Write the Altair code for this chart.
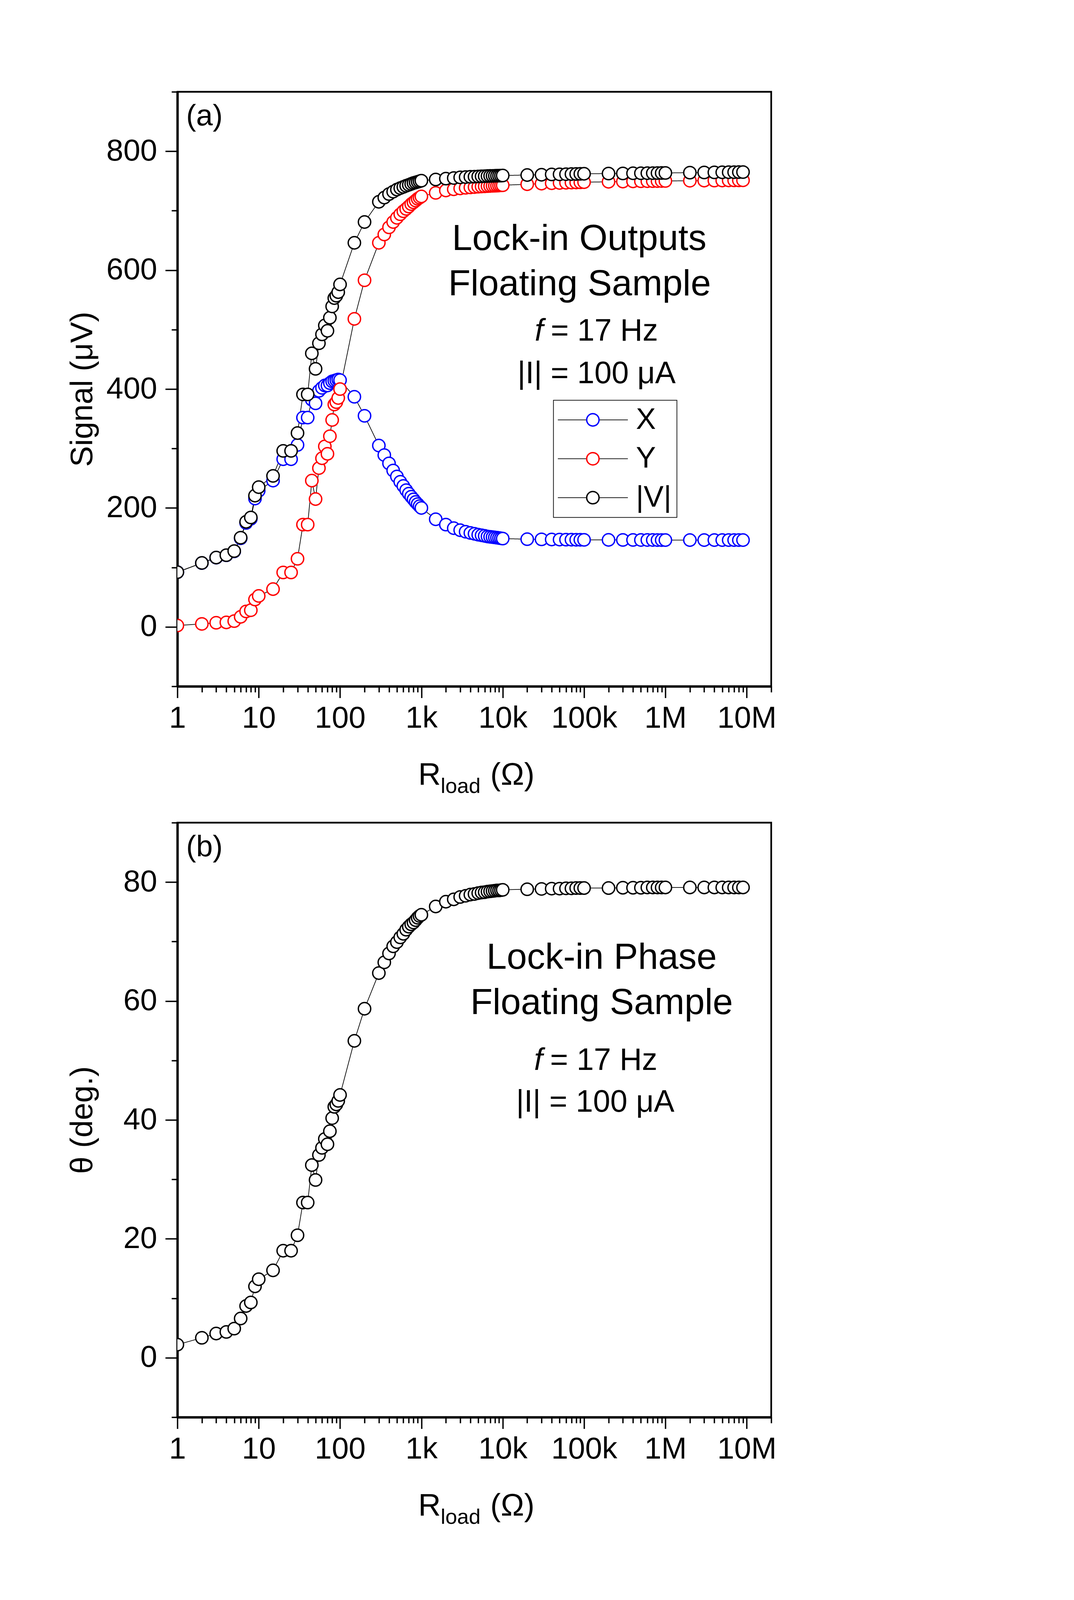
import json
import altair as alt
import pandas as pd

# ---------------- data ----------------
R_OHM = [1, 2, 3, 4, 5, 6, 7, 8, 9, 10,
         15, 20, 25, 30, 35, 40, 45, 50, 55, 60, 65, 70, 75, 80, 85, 90, 95, 100,
         150, 200, 300, 350, 400, 450, 500, 550, 600, 650, 700, 750, 800, 850, 900, 950, 1000,
         1500, 2000, 2500, 3000, 3500, 4000, 4500, 5000, 5500, 6000, 6500, 7000, 7500, 8000, 8500, 9000, 9500, 10000,
         20000, 30000, 40000, 50000, 60000, 70000, 80000, 90000, 100000,
         200000, 300000, 400000, 500000, 600000, 700000, 800000, 900000, 1000000,
         2000000, 3000000, 4000000, 5000000, 6000000, 7000000, 8000000, 9000000]

X_UV = [92, 107.4, 116.4, 120.4, 127, 149, 174.8, 181.8, 215.8, 229,
        246, 282, 282, 306, 352, 352, 382, 376, 397, 402, 406, 406, 410, 413, 414, 415, 416, 415,
        387, 355, 305, 289, 275, 263, 253, 244, 237, 230, 224, 219, 214.5, 210, 206.5, 203, 200,
        181, 172, 166, 162.6, 160, 158, 156.5, 155, 154, 153, 152, 151.5, 151, 150.5, 150, 149.5, 149, 148.5,
        147.5, 147.2, 147, 146.8, 146.7, 146.6, 146.5, 146.5, 146.4,
        146.3, 146.2, 146.2, 146.1, 146.1, 146.1, 146, 146, 146,
        146, 146, 146, 146, 146, 146, 146, 146]

Y_UV = [2.3, 5, 6.9, 7.5, 9.7, 16.9, 26, 28, 46, 52,
        63.5, 91.5, 91.5, 114.5, 172, 172, 246, 215, 267, 283.6, 303.6, 291, 320.7, 348, 374, 378, 385, 400,
        518, 583, 646, 660, 672, 681, 688, 694, 699, 703, 707, 711, 714, 717, 720, 722, 724,
        730, 734, 736, 737.5, 738.5, 739.2, 739.8, 740.3, 740.7, 741, 741.3, 741.6, 741.8, 742, 742.2, 742.4, 742.6, 742.8,
        744.5, 745.5, 746.2, 746.7, 747, 747.3, 747.5, 747.7, 748,
        748.6, 749, 749.3, 749.5, 749.6, 749.7, 749.8, 749.9, 750,
        750.4, 750.6, 750.7, 750.8, 750.9, 751, 751, 751.1]

V_UV = [92, 107.5, 116.6, 120.6, 127.5, 150, 176.7, 184, 220.7, 235,
        254, 296, 296, 326, 391, 391, 460, 434, 477, 492, 507, 498, 520, 539, 553, 557, 563, 576,
        646, 681, 715, 722, 728, 732, 735.5, 738, 740, 742, 743.5, 745, 746.5, 747.5, 748.5, 749.5, 750.5,
        752.5, 754, 755, 756, 756.5, 757, 757.3, 757.6, 757.9, 758.1, 758.3, 758.5, 758.6, 758.7, 758.8, 758.9, 759, 759.2,
        760, 760.5, 761, 761.2, 761.4, 761.6, 761.8, 762, 762.1,
        762.5, 762.7, 762.9, 763, 763.1, 763.2, 763.3, 763.4, 763.5,
        764, 764.3, 764.5, 764.6, 764.7, 764.8, 764.9, 765]

THETA_DEG = [2.2, 3.35, 4.07, 4.34, 4.9, 6.6, 8.7, 9.3, 12.0, 13.2,
             14.7, 18.0, 18.0, 20.6, 26.1, 26.1, 32.4, 29.9, 34.1, 35.3, 36.8, 35.9, 38.1, 40.3, 42.2, 42.6, 43.2, 44.2,
             53.3, 58.7, 64.7, 66.5, 68.0, 69.2, 69.9, 70.7, 71.3, 72.0, 72.5, 72.9, 73.2, 73.6, 74.0, 74.3, 74.5,
             75.9, 76.7, 77.1, 77.5, 77.7, 77.9, 78.0, 78.15, 78.25, 78.3, 78.4, 78.45, 78.5, 78.55, 78.6, 78.6, 78.65, 78.7,
             78.8, 78.85, 78.9, 78.9, 78.95, 78.95, 79.0, 79.0, 79.0,
             79.0, 79.05, 79.05, 79.05, 79.1, 79.1, 79.1, 79.1, 79.1,
             79.1, 79.1, 79.1, 79.1, 79.1, 79.1, 79.1, 79.1]

SERIES = ["X", "Y", "|V|"]
COLORS = ["#0000FF", "#FF0000", "#000000"]

X_MAJOR = [1, 10, 100, 1000, 10000, 100000, 1000000, 10000000]
X_MAJOR_LABELS = ["1", "10", "100", "1k", "10k", "100k", "1M", "10M"]
X_DOMAIN = [1, 20000000]
SIG_DOMAIN = [-100, 900]
SIG_TICKS = [-100, 0, 100, 200, 300, 400, 500, 600, 700, 800, 900]
TH_DOMAIN = [-10, 90]
TH_TICKS = [-10, 0, 10, 20, 30, 40, 50, 60, 70, 80, 90]

TXT_A = "(a)"
TXT_B = "(b)"
TXT_OUT1 = "Lock-in Outputs"
TXT_PH1 = "Lock-in Phase"
TXT_FLOAT = "Floating Sample"
TXT_F = "f"
TXT_FREQ = "= 17 Hz"
TXT_CUR = "|I| = 100 \u03bcA"
YTITLE_SIG = "Signal (\u03bcV)"
YTITLE_TH = "\u03b8 (deg.)"
XT_R, XT_SUB, XT_UNIT = "R", "load", "(\u03a9)"

FONT = "Liberation Sans"
W, H = 1520, 1522
HEAD, SUB, SMALL = 93, 79, 76.5
TICKF, TITLEF = 78, 80
PT_SIZE, PT_STROKE = 1000, 3.5

# ---------------- axes ----------------
x_ticks = [m * 10 ** e for e in range(8) for m in range(1, 10) if m * 10 ** e <= X_DOMAIN[1]]
x_major_test = "indexof(%s, datum.value) >= 0" % json.dumps(X_MAJOR)
x_label_expr = " : ".join(
    "datum.value === %d ? '%s'" % (v, l) for v, l in zip(X_MAJOR, X_MAJOR_LABELS)) + " : ''"


def x_scale():
    return alt.Scale(type="log", domain=X_DOMAIN, nice=False)


def x_axis():
    return alt.Axis(values=x_ticks, labelExpr=x_label_expr, title=None, grid=False,
                    labelOverlap=False, labelFlush=False, labelPadding=14, labelFontSize=TICKF,
                    labelLimit=600,
                    tickSize={"condition": {"test": x_major_test, "value": 29.5}, "value": 15})


def y_axis(ticks, step, lo, hi, title, tpad):
    test = "datum.value %% %d === 0" % step
    lab = "(datum.value %% %d === 0 && datum.value >= %d && datum.value <= %d) ? datum.label : ''" % (step, lo, hi)
    return alt.Axis(values=ticks, labelExpr=lab, title=title, grid=False, labelOverlap=False,
                    labelFlush=False, labelPadding=21, labelFontSize=TICKF, labelLimit=600,
                    titleFontSize=TITLEF, titlePadding=tpad,
                    tickSize={"condition": {"test": test, "value": 31}, "value": 15})


def text_layer(s, x, y, size, align="center", style="normal"):
    return alt.Chart(pd.DataFrame({"t": [s]})).mark_text(
        font=FONT, fontSize=size, align=align, baseline="alphabetic", fontStyle=style, color="black"
    ).encode(x=alt.value(x), y=alt.value(y), text="t:N")


def xtitle_layers():
    return [text_layer(XT_R, 616.5, H + 252, TITLEF, "left"),
            text_layer(XT_SUB, 674, H + 273, 54, "left"),
            text_layer(XT_UNIT, 801, H + 252, TITLEF, "left")]


# ---------------- top panel ----------------
df_sig = pd.DataFrame({
    "R": R_OHM * 3,
    "value": X_UV + Y_UV + V_UV,
    "series": [s for s in SERIES for _ in R_OHM],
    "line_series": [s + " " for s in SERIES for _ in R_OHM],
})

xenc = alt.X("R:Q", scale=x_scale(), axis=x_axis())
yenc_sig = alt.Y("value:Q", scale=alt.Scale(domain=SIG_DOMAIN, nice=False),
                 axis=y_axis(SIG_TICKS, 200, 0, 800, YTITLE_SIG, 19))

# legend frame + black connecting lines of the legend
lines_sig = alt.Chart(df_sig).mark_line(color="black", strokeWidth=1.75, clip=True).encode(
    x=xenc, y=yenc_sig,
    strokeDash=alt.StrokeDash(
        "line_series:N",
        scale=alt.Scale(domain=[s + " " for s in SERIES], range=[[1, 0], [1, 0], [1, 0]]),
        legend=alt.Legend(orient="none", legendX=962.6, legendY=789.6, title=None,
                          symbolType="M-5.667,0H5.667", symbolSize=PT_SIZE, symbolStrokeWidth=1.75,
                          symbolStrokeColor="black", symbolOffset=50.6,
                          labelOpacity=0, labelFontSize=SMALL, labelFont=FONT, labelOffset=164,
                          labelExpr="'    '", padding=12, rowPadding=22.6,
                          strokeColor="black", zindex=1)),
)

# legend circles and labels
points_sig = alt.Chart(df_sig).mark_point(
    shape="circle", size=PT_SIZE, strokeWidth=PT_STROKE, fill="white", fillOpacity=1, opacity=1,
    clip=True
).encode(
    x=alt.X("R:Q"), y=alt.Y("value:Q"),
    stroke=alt.Stroke(
        "series:N", scale=alt.Scale(domain=SERIES, range=COLORS),
        legend=alt.Legend(orient="none", legendX=1025.25, legendY=801.6, title=None,
                          symbolType="circle", symbolSize=PT_SIZE, symbolStrokeWidth=PT_STROKE,
                          symbolFillColor="white", labelFontSize=SMALL, labelFont=FONT,
                          labelColor="black", labelOffset=72, padding=0, rowPadding=22.6,
                          zindex=2)),
)

top = alt.layer(
    lines_sig, points_sig,
    text_layer(TXT_A, 22.6, 86, SMALL, "left"),
    text_layer(TXT_OUT1, 1028.7, 405, HEAD),
    text_layer(TXT_FLOAT, 1029.6, 521, HEAD),
    text_layer(TXT_F, 914.8, 637.4, SUB, "left", "italic"),
    text_layer(TXT_FREQ, 955.7, 637.4, SUB, "left"),
    text_layer(TXT_CUR, 1073, 746, SUB),
    *xtitle_layers(),
).properties(width=W, height=H)

# ---------------- bottom panel ----------------
df_th = pd.DataFrame({"R": R_OHM, "theta": THETA_DEG})
yenc_th = alt.Y("theta:Q", scale=alt.Scale(domain=TH_DOMAIN, nice=False),
                axis=y_axis(TH_TICKS, 20, 0, 80, YTITLE_TH, 63))

lines_th = alt.Chart(df_th).mark_line(color="black", strokeWidth=1.75, clip=True).encode(
    x=alt.X("R:Q", scale=x_scale(), axis=x_axis()), y=yenc_th)
points_th = alt.Chart(df_th).mark_point(
    shape="circle", size=PT_SIZE, strokeWidth=PT_STROKE, fill="white", fillOpacity=1, opacity=1,
    stroke="black", clip=True
).encode(x=alt.X("R:Q"), y=alt.Y("theta:Q"))

bottom = alt.layer(
    lines_th, points_th,
    text_layer(TXT_B, 22.6, 86, SMALL, "left"),
    text_layer(TXT_PH1, 1086, 374, HEAD),
    text_layer(TXT_FLOAT, 1086, 489.6, HEAD),
    text_layer(TXT_F, 913, 633, SUB, "left", "italic"),
    text_layer(TXT_FREQ, 954, 633, SUB, "left"),
    text_layer(TXT_CUR, 1069.6, 740, SUB),
    *xtitle_layers(),
).properties(width=W, height=H)

chart = alt.VConcatChart(vconcat=[top, bottom], spacing=349, bounds="flush").properties(
    padding={"left": 161, "top": 185, "right": 60, "bottom": 100}
).configure(font=FONT).configure_view(
    stroke="black", strokeWidth=4.3
).configure_axis(
    domainColor="black", domainWidth=6, tickColor="black", tickWidth=3.5,
    labelFont=FONT, labelColor="black", titleFont=FONT, titleColor="black",
    titleFontWeight="normal"
).configure_legend(strokeWidth=1.75)

chart.save("out.html", embed_options={"renderer": "svg", "actions": False})
